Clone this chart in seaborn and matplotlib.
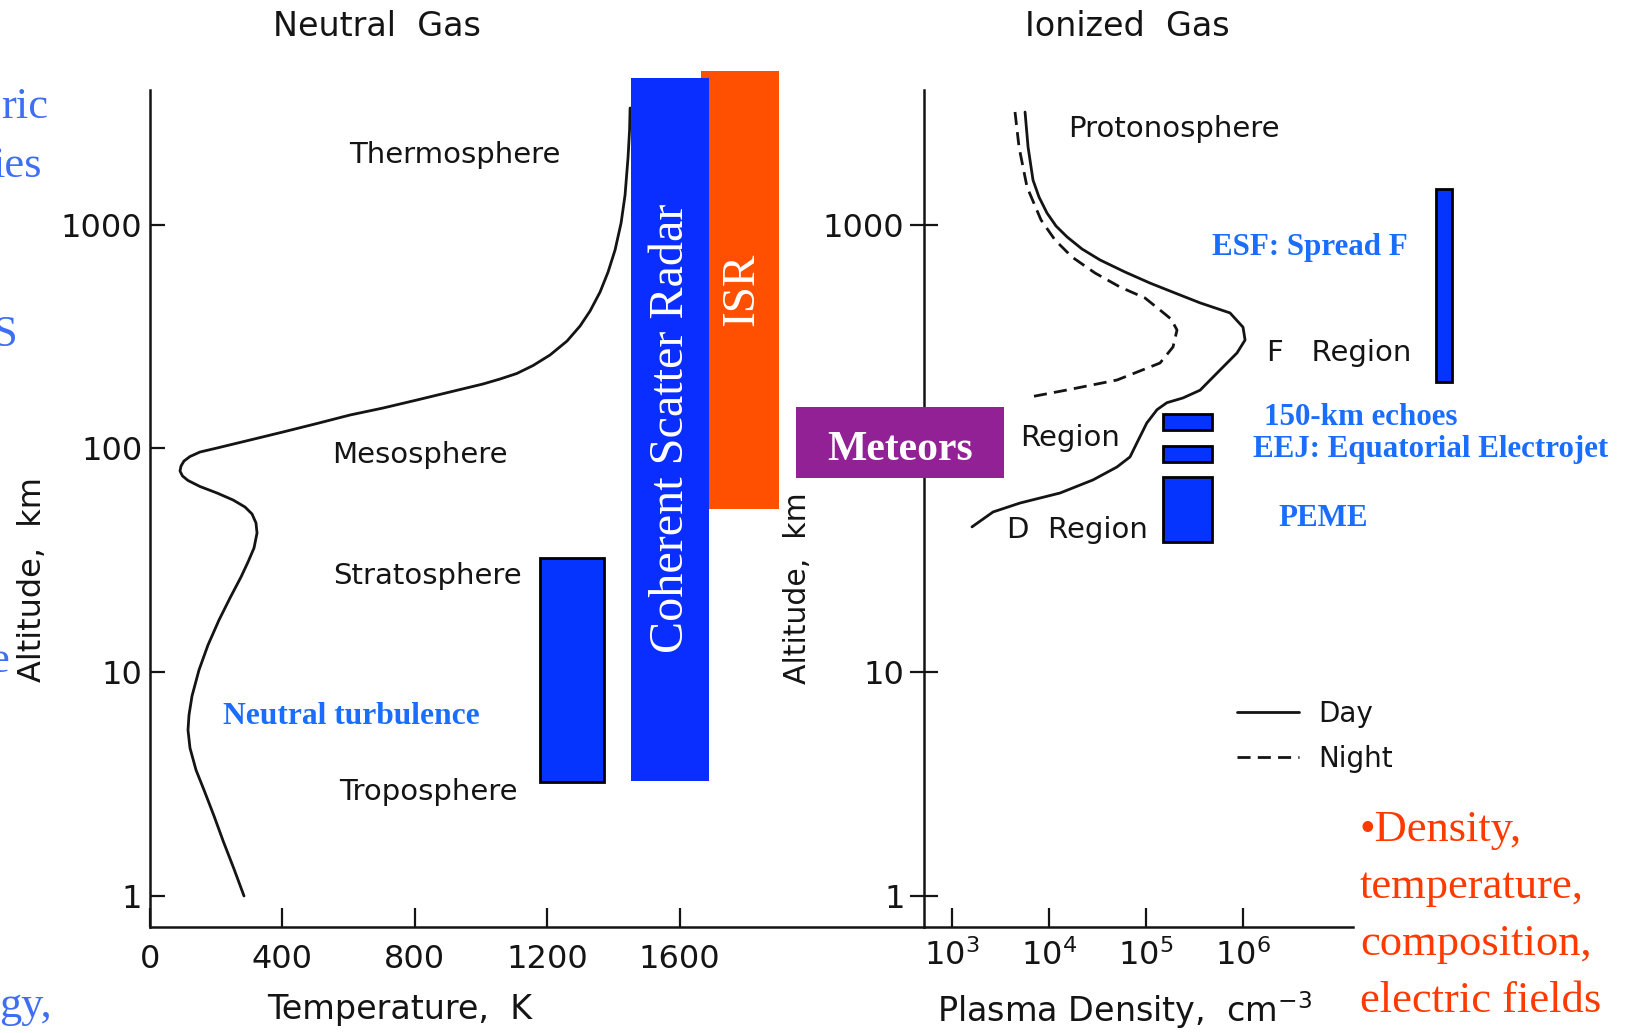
import matplotlib
matplotlib.use("Agg")
import matplotlib.pyplot as plt
import seaborn as sns
from matplotlib.patches import Rectangle
from matplotlib.ticker import FixedLocator, FixedFormatter, NullLocator

# ---------------- data ----------------
# Neutral atmosphere: temperature (K) against altitude (km)
temp_K = [284.0, 253.8, 222.1, 193.4, 163.1, 139.0, 120.8, 114.8, 117.8, 126.9,
          148.0, 175.2, 208.5, 241.7, 274.9, 296.1, 314.2, 323.3, 320.2, 308.2,
          287.0, 250.8, 202.4, 151.1, 114.8, 98.2, 90.6, 93.7, 102.7, 120.8,
          151.1, 202.4, 302.1, 401.8, 504.5, 604.2, 703.9, 806.6, 906.3,
          1006.0, 1057.4, 1107.9, 1157.1, 1208.5, 1259.8, 1299.1, 1329.3,
          1359.5, 1383.7, 1404.8, 1423.0, 1435.0, 1444.1, 1448.6, 1450.2]
temp_alt_km = [1.000, 1.320, 1.743, 2.278, 2.976, 3.656, 4.585, 5.516, 6.437,
               7.829, 10.23, 13.23, 17.11, 21.46, 26.63, 31.08, 35.89, 41.88,
               46.42, 50.93, 54.71, 58.83, 63.20, 67.56, 71.88, 75.29, 79.26,
               83.44, 87.82, 91.99, 96.36, 100.4, 109.0, 118.4, 129.2, 141.0,
               151.5, 164.6, 178.7, 194.0, 204.2, 216.1, 234.6, 261.5, 301.9,
               352.3, 411.1, 499.7, 614.0, 770.1, 1016.5, 1356, 2005, 2647, 3319]

# Ionosphere: plasma density (cm^-3) against altitude (km)
day_density = [5662, 6081, 6839, 7886, 9528, 11810, 15350, 21890, 33570, 60740,
               109900, 199100, 360600, 734500, 1.0e6, 1.05e6, 8.67e5, 6.22e5,
               3.61e5, 2.40e5, 1.64e5, 1.30e5, 1.02e5, 8.07e4, 6.84e4, 5.02e4,
               2.84e4, 1.30e4, 5020, 2650, 1607]
day_alt_km = [3184, 2223, 1581, 1328, 1127, 985.6, 881, 778, 695, 614, 548,
              494.7, 447, 403, 348, 305, 267, 231, 182, 168, 160, 149, 130, 106,
              91.6, 82.6, 72.3, 63.2, 57.0, 52.0, 44.6]
night_density = [4461, 4906, 5933, 8272, 11530, 17270, 29790, 53950, 97660,
                 139400, 181000, 208700, 189800, 139400, 50230, 15330, 6370]
night_alt_km = [3185, 2222, 1472, 1049, 853.5, 716.5, 607.8, 526.2, 469.9,
                415.3, 378.5, 338.1, 283.9, 240.7, 202.1, 182.4, 169.7]

# Altitude coverage of the observing techniques / phenomena
turbulence_T = (1177, 1372)
turbulence_alt = (3.23, 32.4)
csr_T = (1453, 1689)
csr_alt = (3.27, 4520)
isr_T = (1665, 1899)
isr_alt = (53.6, 4856)
meteor_n = (24.7, 3436)
meteor_alt = (73.8, 153)
echo_n = (1.50e5, 4.79e5)
echo150_alt = (120.9, 142.5)
eej_alt = (87.0, 102.5)
peme_alt = (38.2, 74.5)
esf_n = (9.77e7, 1.43e8)
esf_alt = (198, 1443)

temp_ticks = [0, 400, 800, 1200, 1600]
alt_ticks = [1, 10, 100, 1000]
alt_labels = ["1", "10", "100", "1000"]
# the 100 km mark of the ionosphere panel sits under the meteor box
alt_labels_right = ["1", "10", "", "1000"]
dens_ticks = [1e3, 1e4, 1e5, 1e6]
dens_labels = [r"$10^3$", r"$10^4$", r"$10^5$", r"$10^6$"]

# ---------------- styling ----------------
sns.set_style("ticks")
plt.rcParams["font.family"] = ["DejaVu Sans"]
plt.rcParams["mathtext.fontset"] = "dejavusans"

INK = "#141414"
BOX_BLUE = "#0533FF"
CSR_BLUE = "#0A2EFF"
ISR_ORANGE = "#FF4F00"
METEOR_PURPLE = "#932196"
LABEL_BLUE = "#1A6DFF"
SIDE_BLUE = "#3D6EF5"
RED = "#FF3A00"
SERIF = ["Liberation Serif", "DejaVu Serif"]

W, H, DPI = 1630, 1033, 100
fig = plt.figure(figsize=(W / DPI, H / DPI), dpi=DPI)
fig.patch.set_facecolor("white")


def fx(px):
    return px / W


def fy(py):
    return 1 - py / H


ax1 = fig.add_axes([fx(150), fy(927), (924 - 150) / W, (927 - 90) / H])
ax2 = fig.add_axes([fx(924), fy(927), (1353 - 924) / W, (927 - 90) / H])

for ax, labels in ((ax1, alt_labels), (ax2, alt_labels_right)):
    ax.set_yscale("log")
    ax.set_ylim(0.727, 3994)
    ax.set_facecolor("none")
    for side in ("top", "right"):
        ax.spines[side].set_visible(False)
    for side in ("left", "bottom"):
        ax.spines[side].set_linewidth(1.8)
        ax.spines[side].set_color(INK)
    ax.yaxis.set_major_locator(FixedLocator(alt_ticks))
    ax.yaxis.set_major_formatter(FixedFormatter(labels))
    ax.yaxis.set_minor_locator(NullLocator())

ax2.set_xscale("log")
ax2.set_xlim(514.3, 1.361e7)
ax1.set_xlim(0, 2338)

# profiles
sns.lineplot(x=temp_K, y=temp_alt_km, sort=False, estimator=None, color=INK,
             lw=2.0, ax=ax1)
sns.lineplot(x=day_density, y=day_alt_km, sort=False, estimator=None,
             color=INK, lw=2.0, ax=ax2, label="Day")
sns.lineplot(x=night_density, y=night_alt_km, sort=False, estimator=None,
             color=INK, lw=2.0, linestyle=(0, (4.7, 2.6)), ax=ax2, label="Night")

# ticks
ax1.set_xticks(temp_ticks)
ax1.set_xticklabels([str(t) for t in temp_ticks])
ax1.xaxis.set_minor_locator(NullLocator())
ax1.tick_params(axis="x", direction="in", length=14, width=1.6, pad=12,
                labelsize=23, colors=INK)
ax1.tick_params(axis="y", direction="in", length=11, width=1.6, pad=5.5,
                labelsize=23, colors=INK)

ax2.xaxis.set_major_locator(FixedLocator(dens_ticks))
ax2.xaxis.set_major_formatter(FixedFormatter(dens_labels))
ax2.xaxis.set_minor_locator(NullLocator())
ax2.tick_params(axis="x", direction="in", length=14, width=1.6, pad=9,
                labelsize=23, colors=INK)
ax2.tick_params(axis="y", direction="inout", length=20, width=1.6, pad=4,
                labelsize=23, colors=INK)

# axis labels
ax1.set_xlabel("Temperature,  K", fontsize=24, color=INK)
ax1.xaxis.set_label_coords((400 - 150) / 774, -(1010 - 927) / 837)
ax1.xaxis.label.set_va("center")
ax1.set_ylabel("Altitude,  km", fontsize=23, color=INK)
ax1.yaxis.set_label_coords((32 - 150) / 774, (927 - 579) / 837)
ax1.yaxis.label.set_va("center")

ax2.set_xlabel(r"Plasma Density,  cm$^{-3}$", fontsize=24, color=INK)
ax2.xaxis.set_label_coords((1125 - 924) / 429, -(1010 - 927) / 837)
ax2.xaxis.label.set_va("center")
ax2.set_ylabel("Altitude,  km", fontsize=21.5, color=INK)
ax2.yaxis.set_label_coords((798 - 924) / 429, (927 - 588) / 837)
ax2.yaxis.label.set_va("center")

# legend
leg = ax2.legend(loc="upper left", bbox_to_anchor=(fx(1237), fy(700)),
                 bbox_transform=fig.transFigure, frameon=False, fontsize=20,
                 handlelength=2.23, handletextpad=0.68, labelspacing=0.6,
                 borderpad=0, borderaxespad=0)
for t in leg.get_texts():
    t.set_color(INK)


def add_box(ax, xr, yr, color, edge=True, z=4):
    ax.add_patch(Rectangle((xr[0], yr[0]), xr[1] - xr[0], yr[1] - yr[0],
                           facecolor=color,
                           edgecolor="black" if edge else "none",
                           linewidth=2.0 if edge else 0,
                           clip_on=False, zorder=z))


# coverage boxes
add_box(ax1, turbulence_T, turbulence_alt, BOX_BLUE)
add_box(ax1, isr_T, isr_alt, ISR_ORANGE, edge=False, z=4)
add_box(ax1, csr_T, csr_alt, CSR_BLUE, edge=False, z=5)
add_box(ax2, meteor_n, meteor_alt, METEOR_PURPLE, edge=False, z=6)
add_box(ax2, echo_n, echo150_alt, BOX_BLUE)
add_box(ax2, echo_n, eej_alt, BOX_BLUE)
add_box(ax2, echo_n, peme_alt, BOX_BLUE)
add_box(ax2, esf_n, esf_alt, BOX_BLUE)

# panel titles and layer names
sans = dict(color=INK, va="center", ha="center")
fig.text(fx(377), fy(26), "Neutral  Gas", fontsize=24, **sans)
fig.text(fx(1127), fy(26), "Ionized  Gas", fontsize=24, **sans)
fig.text(fx(455), fy(155), "Thermosphere", fontsize=21, **sans)
fig.text(fx(420), fy(455), "Mesosphere", fontsize=21, **sans)
fig.text(fx(427), fy(576), "Stratosphere", fontsize=21, **sans)
fig.text(fx(428), fy(792), "Troposphere", fontsize=21, **sans)
fig.text(fx(1174), fy(129), "Protonosphere", fontsize=21, **sans)
fig.text(fx(1339), fy(353), "F   Region", fontsize=21, **sans)
fig.text(fx(1077), fy(530), "D  Region", fontsize=21, **sans)
fig.text(fx(1120), fy(438), "Region", fontsize=21, color=INK, ha="right",
         va="center")

# labels inside the coloured boxes
fig.text(fx(671), fy(428), "Coherent Scatter Radar", rotation=90,
         fontsize=34.7, color="white", ha="center", va="center", family=SERIF)
fig.text(fx(742), fy(289), "ISR", rotation=90, fontsize=34, color="white",
         ha="center", va="center", family=SERIF)
fig.text(fx(900), fy(450), "Meteors", fontsize=30, color="white",
         fontweight="bold", ha="center", va="center", family=SERIF)

# phenomenon names
blue_bold = dict(color=LABEL_BLUE, fontweight="bold", ha="center",
                 va="center", family=SERIF)
fig.text(fx(351), fy(717), "Neutral turbulence", fontsize=22.7, **blue_bold)
fig.text(fx(1310), fy(247), "ESF: Spread F", fontsize=22.3, **blue_bold)
fig.text(fx(1361), fy(417), "150-km echoes", fontsize=22.3, **blue_bold)
fig.text(fx(1431), fy(449), "EEJ: Equatorial Electrojet", fontsize=22.3,
         **blue_bold)
fig.text(fx(1323), fy(519), "PEME", fontsize=22.3, **blue_bold)

# red bullet text
red_lines = ["\u2022Density,", "temperature,", "composition,", "electric fields"]
for i, line in enumerate(red_lines):
    fig.text(fx(1360), fy(830 + 57 * i), line, fontsize=32, color=RED,
             ha="left", va="center", family=SERIF)

# side text running off the left edge
side_words = [("ric", 48, 107), ("ies", 42, 166), ("S", 18, 335),
              ("e", 9, 661), ("gy,", 52, 1006)]
for word, xr, yc in side_words:
    fig.text(fx(xr), fy(yc), word, fontsize=32, color=SIDE_BLUE,
             ha="right", va="center", family=SERIF)

fig.savefig("out.png", dpi=DPI, facecolor="white")
